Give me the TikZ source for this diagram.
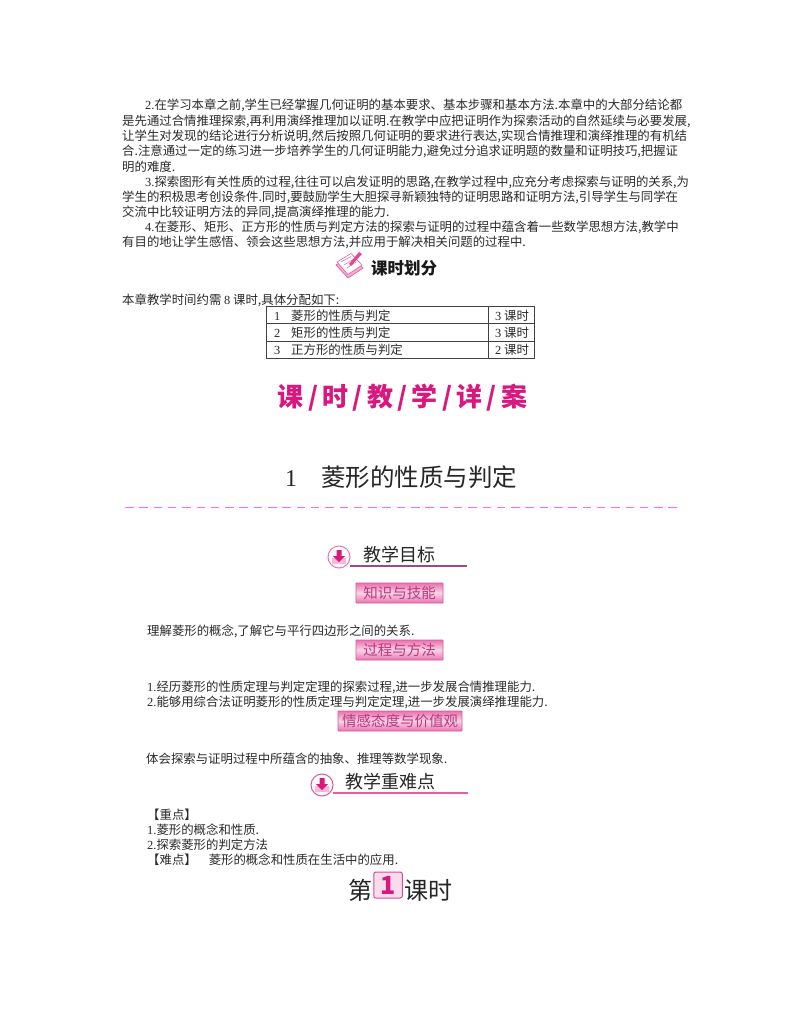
\documentclass[tikz,border=0pt]{standalone}
\usepackage{fontspec}
\setmainfont{Liberation Serif}
\newfontfamily\cjk{Noto Sans CJK SC}
\newfontfamily\latf{Liberation Serif}
\definecolor{bodyink}{HTML}{2A2A2A}
\definecolor{hotpink}{HTML}{D9187F}
\definecolor{dashpink}{HTML}{FF66FF}
\definecolor{badgeedge}{HTML}{D8589A}
\definecolor{badgemid}{HTML}{FBD3E6}
\definecolor{badgedark}{HTML}{E873AE}
\definecolor{badgeink}{HTML}{B83A80}
\newcommand{\dg}[1]{{\latf #1}}
\tikzset{
  x=1pt,y=-1pt,
  bodyline/.style={anchor=base west,inner sep=0pt,text=bodyink,font=\cjk\fontsize{12.4}{14}\selectfont},
  tablecell/.style={anchor=base west,inner sep=0pt,text=bodyink,font=\cjk\fontsize{12.4}{14}\selectfont},
  heading/.style={anchor=base west,inner sep=0pt,text=black!85,font=\cjk\fontsize{18}{20}\selectfont},
  badgebox/.style={anchor=center,minimum height=20pt,inner sep=0pt,draw=badgeedge,line width=0.8pt,
    top color=badgedark,bottom color=badgedark,middle color=badgemid,rounded corners=0.5pt,
    text=badgeink,font=\cjk\fontsize{14.5}{16}\selectfont},
  rulegrid/.style={draw=black!75,line width=1pt},
}
\newcommand{\downicon}[3]{% colour, x, y
  \node[circle,draw=#1,fill=white,line width=1pt,minimum size=22pt,inner sep=0pt] at (#2,#3) {};
  \fill[hotpink!30] (#2-7,#3+1) -- (#2-4,#3+1) -- (#2,#3+4) -- (#2+4,#3+1) -- (#2+7,#3+1) -- (#2+7,#3+7) -- (#2-7,#3+7) -- cycle;
  \fill[hotpink] (#2-2.5,#3-7) -- (#2+2.5,#3-7) -- (#2+2.5,#3-1) -- (#2+6,#3-1) -- (#2,#3+5) -- (#2-6,#3-1) -- (#2-2.5,#3-1) -- cycle;
}
\begin{document}
\begin{tikzpicture}
\useasboundingbox (0,0) rectangle (800,1028);
\fill[white] (0,0) rectangle (800,1028);

% body paragraphs
\node[bodyline] (p1) at (145,109.5) {\dg{2.}在学习本章之前,学生已经掌握几何证明的基本要求、基本步骤和基本方法.本章中的大部分结论都};
\node[bodyline] (p2) at (122,125) {是先通过合情推理探索,再利用演绎推理加以证明.在教学中应把证明作为探索活动的自然延续与必要发展,};
\node[bodyline] (p3) at (122,140) {让学生对发现的结论进行分析说明,然后按照几何证明的要求进行表达,实现合情推理和演绎推理的有机结};
\node[bodyline] (p4) at (122,155) {合.注意通过一定的练习进一步培养学生的几何证明能力,避免过分追求证明题的数量和证明技巧,把握证};
\node[bodyline] (p5) at (122,171) {明的难度.};
\node[bodyline] (p6) at (145,186) {\dg{3.}探索图形有关性质的过程,往往可以启发证明的思路,在教学过程中,应充分考虑探索与证明的关系,为};
\node[bodyline] (p7) at (122,201) {学生的积极思考创设条件.同时,要鼓励学生大胆探寻新颖独特的证明思路和证明方法,引导学生与同学在};
\node[bodyline] (p8) at (122,216) {交流中比较证明方法的异同,提高演绎推理的能力.};
\node[bodyline] (p9) at (145,231) {\dg{4.}在菱形、矩形、正方形的性质与判定方法的探索与证明的过程中蕴含着一些数学思想方法,教学中};
\node[bodyline] (p10) at (122,246) {有目的地让学生感悟、领会这些思想方法,并应用于解决相关问题的过程中.};

% book icon
\fill[hotpink!35,draw=hotpink!70,line width=0.7pt] (336,265) -- (351,256) -- (363,268) -- (348,278) -- cycle;
\fill[white,draw=hotpink!70,line width=0.6pt] (337,262) -- (351,253.5) -- (362,265) -- (348,274.5) -- cycle;
\draw[hotpink!70,line width=0.5pt] (341,262) -- (351,256.5) (344,265) -- (354,259) (347,268) -- (356,262);
\fill[hotpink!80] (349,264) -- (359,252) -- (362,254) -- (351,266) -- cycle;
\node[anchor=base west,inner sep=0pt,font=\cjk\bfseries\fontsize{16.5}{18}\selectfont,text=black!90] (h1) at (371,274) {课时划分};

\node[bodyline] (intro) at (122,304) {本章教学时间约需 \dg{8} 课时,具体分配如下:};

% table
\draw[rulegrid] (266.5,306.5) rectangle (534,358);
\draw[rulegrid] (266.5,323.8) -- (534,323.8) (266.5,341) -- (534,341) (488,306.5) -- (488,358);
\node[tablecell] (n1) at (274,320) {\dg{1}};
\node[tablecell] (t1) at (291,320) {菱形的性质与判定};
\node[tablecell] (c1) at (495,320) {\dg{3} 课时};
\node[tablecell] (n2) at (274,337.5) {\dg{2}};
\node[tablecell] (t2) at (291,337.5) {矩形的性质与判定};
\node[tablecell] (c2) at (495,337.5) {\dg{3} 课时};
\node[tablecell] (n3) at (274,354.5) {\dg{3}};
\node[tablecell] (t3) at (291,354.5) {正方形的性质与判定};
\node[tablecell] (c3) at (495,354.5) {\dg{2} 课时};

% pink banner
\node[anchor=base,inner sep=0pt,text=hotpink,font=\cjk\bfseries\fontsize{26}{28}\selectfont] (banner) at (402.5,406) {课\,/\,时\,/\,教\,/\,学\,/\,详\,/\,案};

% section title
\node[anchor=base west,inner sep=0pt,text=black!85,font=\latf\fontsize{24}{26}\selectfont] (secno) at (285,486) {1};
\node[anchor=base west,inner sep=0pt,text=black!85,font=\cjk\fontsize{24.5}{26}\selectfont] (sect) at (321,486) {菱形的性质与判定};
\draw[dashpink,line width=1.6pt,dash pattern=on 8.5pt off 5.8pt] (125,507.5) -- (677,507.5);

% teaching goals
\downicon{hotpink!60}{339}{557}
\node[heading] (goal) at (363,561) {教学目标};
\draw[hotpink!60!black!75,line width=1.2pt] (350,566) -- (467,566);
\node[badgebox,minimum width=87pt] (b1) at (399.5,593) {知识与技能};
\node[bodyline] (g1) at (147,635) {理解菱形的概念,了解它与平行四边形之间的关系.};
\node[badgebox,minimum width=87pt] (b2) at (399.5,650) {过程与方法};
\node[bodyline] (g2) at (147,691) {\dg{1.}经历菱形的性质定理与判定定理的探索过程,进一步发展合情推理能力.};
\node[bodyline] (g3) at (147,706) {\dg{2.}能够用综合法证明菱形的性质定理与判定定理,进一步发展演绎推理能力.};
\node[badgebox,minimum width=124pt] (b3) at (400,721) {情感态度与价值观};
\node[bodyline] (g4) at (146,763) {体会探索与证明过程中所蕴含的抽象、推理等数学现象.};

% key points
\downicon{hotpink!75}{322}{785}
\node[heading] (key) at (345,788) {教学重难点};
\draw[hotpink!70,line width=1.2pt] (333,793) -- (468,793);
\node[bodyline] (k1) at (147,819) {【重点】};
\node[bodyline] (k2) at (147,834) {\dg{1.}菱形的概念和性质.};
\node[bodyline] (k3) at (147,849) {\dg{2.}探索菱形的判定方法};
\node[bodyline] (k4) at (147,864) {【难点】\hspace{12pt}菱形的概念和性质在生活中的应用.};

% lesson
\node[anchor=base west,inner sep=0pt,text=black!85,font=\cjk\fontsize{24}{26}\selectfont] (les1) at (348,899) {第};
\node[draw=hotpink!80,line width=1pt,fill=hotpink!15,rounded corners=2pt,minimum width=28.5pt,minimum height=26pt,inner sep=0pt,text=hotpink,font=\cjk\bfseries\fontsize{25}{26}\selectfont] (les2) at (388,885) {1};
\node[anchor=base west,inner sep=0pt,text=black!85,font=\cjk\fontsize{24}{26}\selectfont] (les3) at (404,899) {课时};
\end{tikzpicture}
\end{document}
